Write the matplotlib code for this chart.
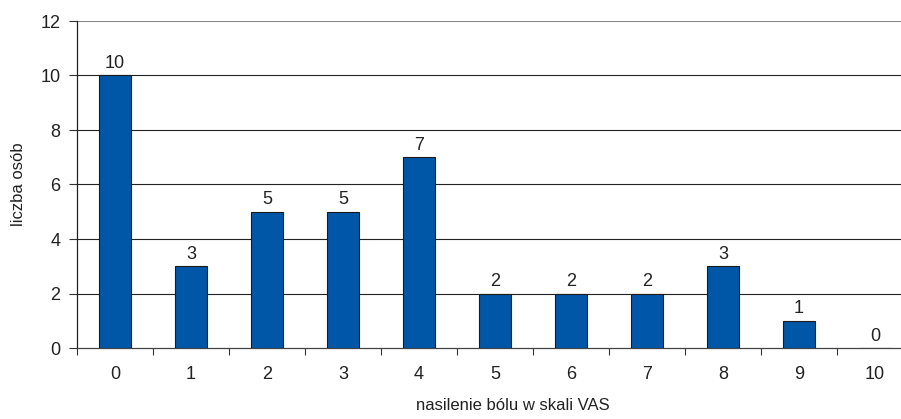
import matplotlib.pyplot as plt
from matplotlib import font_manager

# Data
vas_scores = ['0', '1', '2', '3', '4', '5', '6', '7', '8', '9', '10']
counts = [10, 3, 5, 5, 7, 2, 2, 2, 3, 1, 0]
y_ticks = [0, 2, 4, 6, 8, 10, 12]

# Pick a narrow font if available
names = {f.name for f in font_manager.fontManager.ttflist}
if 'Liberation Sans Narrow' in names:
    plt.rcParams['font.family'] = ['Liberation Sans Narrow', 'DejaVu Sans']
else:
    plt.rcParams['font.family'] = ['Liberation Sans', 'DejaVu Sans']

bar_color = '#0057a8'
text_color = '#222222'

fig = plt.figure(figsize=(9.01, 4.19), dpi=100)
ax = fig.add_axes([77 / 901, 1 - 348 / 419, 836 / 901, 327 / 419])

x = list(range(len(vas_scores)))
bars = ax.bar(x, counts, width=0.42, color=bar_color, edgecolor='#1a1a1a',
              linewidth=0.8, zorder=3)

# Value labels above bars
for xi, c in zip(x, counts):
    ax.text(xi, c + 0.12, str(c), ha='center', va='bottom', fontsize=13,
            color=text_color)

ax.set_xlim(-0.5, len(vas_scores) - 0.5)
ax.set_ylim(0, 12)
ax.set_yticks(y_ticks)
ax.set_yticklabels([str(t) for t in y_ticks], fontsize=13, color=text_color)

# Category labels centred, tick marks at category boundaries
ax.set_xticks(x)
ax.set_xticklabels(vas_scores, fontsize=13, color=text_color)
ax.tick_params(axis='x', length=0, pad=13)
ax.set_xticks([i - 0.5 for i in range(len(vas_scores) + 1)], minor=True)
ax.tick_params(axis='x', which='minor', length=5, width=0.8, color='#333333')
ax.tick_params(axis='y', length=6, width=0.8, color='#333333', pad=6)

# Gridlines
for t in y_ticks[1:]:
    ax.axhline(t, color='#888888' if t == 12 else '#222222', linewidth=0.8, zorder=1)

for side in ['top', 'right']:
    ax.spines[side].set_visible(False)
ax.spines['left'].set_color('#222222')
ax.spines['left'].set_linewidth(0.9)
ax.spines['bottom'].set_color('#444444')
ax.spines['bottom'].set_linewidth(0.9)

ax.set_ylabel('liczba osób', fontsize=12, color=text_color, labelpad=10)
fig.text(513 / 901, 1 - 405 / 419, 'nasilenie bólu w skali VAS', ha='center',
         va='center', fontsize=12, color=text_color)

fig.savefig('out.png', dpi=100)
